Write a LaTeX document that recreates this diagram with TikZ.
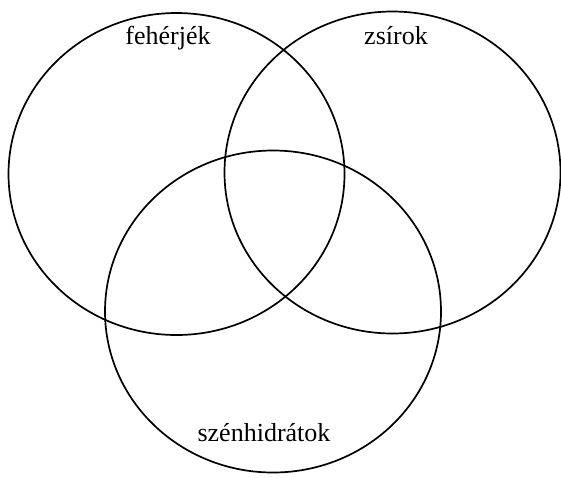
\documentclass[tikz,border=0pt]{standalone}
\usepackage{fontspec}
\setmainfont{Liberation Serif}
\usetikzlibrary{shapes.geometric}
\begin{document}
\begin{tikzpicture}[x=1pt,y=-1pt,
  setshape/.style={draw=black, line width=1.7pt, ellipse, minimum width=336pt, minimum height=322pt, inner sep=0pt, outer sep=0pt},
  lbl/.style={anchor=base, inner sep=0pt, font=\fontsize{26}{30}\selectfont}]
\useasboundingbox (0,0) rectangle (561,477);
\node[setshape] (prot) at (176.5,174) {};
\node[setshape] (fat) at (392.5,172.5) {};
\node[setshape] (carb) at (273,311.5) {};
\node[lbl] (lprot) at (168,44) {fehérjék};
\node[lbl] (lfat) at (396,44) {zsírok};
\node[lbl] (lcarb) at (264,441) {szénhidrátok};
\end{tikzpicture}
\end{document}
